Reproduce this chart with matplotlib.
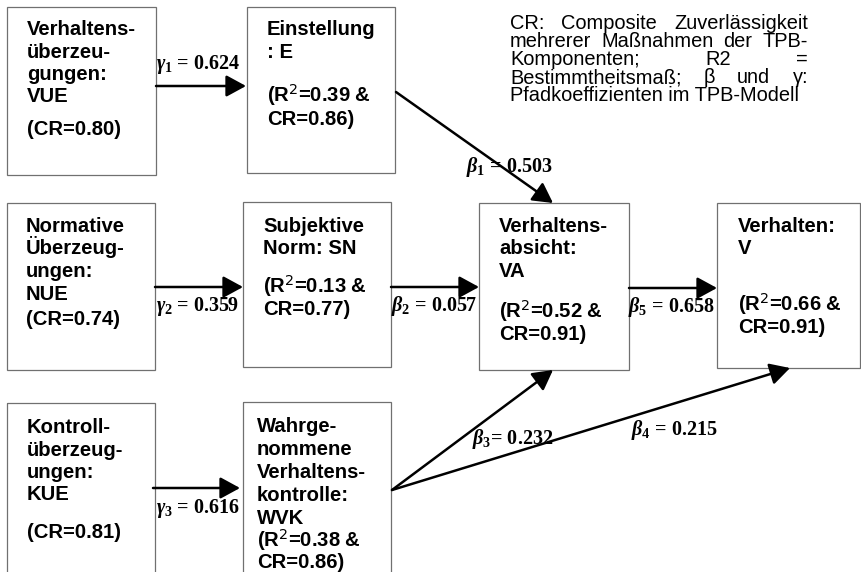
# TPB path model: Überzeugungen -> Einstellung/Norm/Kontrolle -> Absicht -> Verhalten

import matplotlib.pyplot as plt
from matplotlib.patches import Rectangle, FancyArrowPatch

plt.rcParams['mathtext.fontset'] = 'custom'
plt.rcParams['mathtext.it'] = 'Liberation Serif:italic:bold'
plt.rcParams['mathtext.rm'] = 'Liberation Serif:bold'
plt.rcParams['mathtext.bf'] = 'Liberation Serif:bold'

# node texts (name lines, statistics lines)
vue_name = ['Verhaltens-', 'überzeu-', 'gungen:', 'VUE']
vue_stats = ['(CR=0.80)']
e_name = ['Einstellung', ': E']
e_stats = ['(R$^{\\mathsf{2}}$=0.39 &', 'CR=0.86)']
nue_name = ['Normative', 'Überzeug-', 'ungen:', 'NUE']
nue_stats = ['(CR=0.74)']
sn_name = ['Subjektive', 'Norm: SN']
sn_stats = ['(R$^{\\mathsf{2}}$=0.13 &', 'CR=0.77)']
va_name = ['Verhaltens-', 'absicht:', 'VA']
va_stats = ['(R$^{\\mathsf{2}}$=0.52 &', 'CR=0.91)']
v_name = ['Verhalten:', 'V']
v_stats = ['(R$^{\\mathsf{2}}$=0.66 &', 'CR=0.91)']
kue_name = ['Kontroll-', 'überzeug-', 'ungen:', 'KUE']
kue_stats = ['(CR=0.81)']
wvk_name = ['Wahrge-', 'nommene', 'Verhaltens-', 'kontrolle:', 'WVK']
wvk_stats = ['(R$^{\\mathsf{2}}$=0.38 &', 'CR=0.86)']

# path coefficients
coef_names = ['\\gamma_{\\mathit{1}}', '\\beta_{\\mathit{1}}', '\\gamma_{\\mathit{2}}',
              '\\beta_{\\mathit{2}}', '\\beta_{\\mathit{5}}', '\\gamma_{\\mathit{3}}',
              '\\beta_{\\mathit{3}}', '\\beta_{\\mathit{4}}']
coef_values = [0.624, 0.503, 0.359, 0.057, 0.658, 0.616, 0.232, 0.215]
coef_eq = [' = ', ' = ', ' = ', ' = ', ' = ', ' = ', '= ', ' = ']

note_words = [['CR:', 'Composite', 'Zuverlässigkeit'],
              ['mehrerer', 'Maßnahmen', 'der', 'TPB-'],
              ['Komponenten;', 'R2', '='],
              ['Bestimmtheitsmaß;', 'β', 'und', 'γ:']]
note_last = 'Pfadkoeffizienten im TPB-Modell'

# layout (pixels): box x0, y0, x1, y1, text inset, name line y, stats line y
boxes = [
    (vue_name, vue_stats, (7, 7, 156, 175), 20, [28, 50.5, 73, 95.5], [128]),
    (e_name, e_stats, (247, 7, 395, 173), 20, [28, 51], [95, 118]),
    (nue_name, nue_stats, (7, 203, 155, 370), 19, [225, 247.5, 270, 292.5], [318]),
    (sn_name, sn_stats, (243, 202, 391, 367), 20, [225, 247.5], [286, 308]),
    (va_name, va_stats, (479, 203, 629, 370), 20, [225, 247.5, 270], [311, 333]),
    (v_name, v_stats, (717, 203, 860, 368), 21, [225, 247.5], [304, 326]),
    (kue_name, kue_stats, (7, 403, 155, 580), 20, [426, 448.5, 471, 493.5], [531]),
    (wvk_name, wvk_stats, (243, 402, 391, 580), 14, [425, 448, 471, 494, 517], [540, 561]),
]

# arrows: start, end, label centre
arrows = [
    ((156, 86), (246, 86), (198, 64)),
    ((396, 92), (553, 203), (509, 167)),
    ((155, 287), (243, 287), (198, 306)),
    ((391, 287), (479, 287), (434, 306)),
    ((629, 288), (717, 288), (671, 307)),
    ((153, 488), (240, 488), (198, 508)),
    ((392, 490), (553, 370), (513, 439)),
    ((392, 490), (790, 368), (674, 430)),
]

fig = plt.figure(figsize=(8.61, 5.72), dpi=100)
ax = fig.add_axes([0, 0, 1, 1])
ax.set_xlim(0, 861)
ax.set_ylim(572, 0)
ax.axis('off')

box_font = dict(family='Liberation Sans', weight='bold', fontsize=14.6, color='black')
for name, stats, (x0, y0, x1, y1), inset, name_y, stats_y in boxes:
    ax.add_patch(Rectangle((x0, y0), x1 - x0, y1 - y0, fill=False,
                           edgecolor='#707070', lw=0.9, clip_on=False))
    for line, y in zip(name + stats, name_y + stats_y):
        ax.text(x0 + inset, y + 7, line, ha='left', va='baseline', **box_font)

for (start, end, lab), nm, val, eq in zip(arrows, coef_names, coef_values, coef_eq):
    ax.add_patch(FancyArrowPatch(start, end, arrowstyle='-|>,head_length=0.55,head_width=0.3',
                                 mutation_scale=22, lw=1.8, color='black',
                                 shrinkA=0, shrinkB=0))
    ax.text(lab[0], lab[1], '$' + nm + '$' + eq + f'{val:.3f}', ha='center', va='center',
            family='Liberation Serif', weight='bold', fontsize=14.5)

# justified note text
note_font = dict(family='Liberation Sans', fontsize=14.4, color='black')
nx0, nx1 = 510, 808
note_y = [23, 41, 59, 77, 95]
fig.canvas.draw()
renderer = fig.canvas.get_renderer()
for words, y in zip(note_words, note_y):
    txts = [ax.text(0, y + 6, w, ha='left', va='baseline', **note_font) for w in words]
    widths = [t.get_window_extent(renderer).width for t in txts]
    gap = (nx1 - nx0 - sum(widths)) / (len(words) - 1)
    x = nx0
    for t, w in zip(txts, widths):
        t.set_x(x)
        x += w + gap
ax.text(nx0, note_y[-1] + 6, note_last, ha='left', va='baseline', **note_font)

fig.savefig('out.png', dpi=100)
